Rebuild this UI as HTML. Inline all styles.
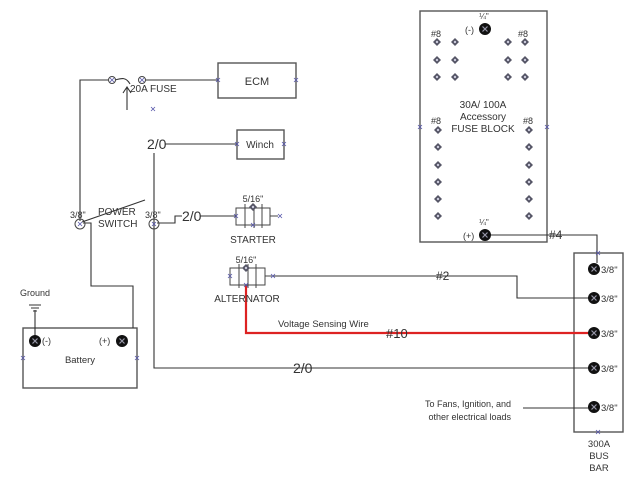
<!DOCTYPE html>
<html><head><meta charset="utf-8"><style>
html,body{margin:0;padding:0;background:#fff;}
svg{display:block;font-family:"Liberation Sans",sans-serif;}
</style></head><body>
<svg width="640" height="480" viewBox="0 0 640 480" xmlns="http://www.w3.org/2000/svg">
<defs>
<g id="bt"><circle r="6" fill="#111"/><path d="M-2.5,-2.5L2.5,2.5M2.5,-2.5L-2.5,2.5" stroke="#99a" stroke-width="1.2"/></g>
<g id="sd"><path d="M0,-4L4,0L0,4L-4,0Z" fill="#556"/><circle r="1.2" fill="#ccd"/></g>
<g id="xm"><path d="M-2,-2L2,2M2,-2L-2,2" stroke="#55a" stroke-width="0.8"/></g>
</defs>
<g fill="none" stroke="#555" stroke-width="1.4">
<rect x="420" y="11" width="127" height="231"/>
<rect x="574" y="253" width="49" height="179"/>
<rect x="218" y="63" width="78" height="35"/>
<rect x="237" y="130" width="47" height="29"/>
<rect x="23" y="328" width="114" height="60"/>
</g>
<g fill="none" stroke="#333" stroke-width="1.1">
<path d="M80,221V80H109"/>
<path d="M115,80C122,78 126,77 130,84 M145,80H218"/>
<path d="M127,110V88"/><path d="M123,93L127,87L131,93"/>
<path d="M82,222L145,200"/>
<path d="M83,223H91V286H133V328"/>
<path d="M165,144H237"/>
<path d="M154,153V368H594"/>
<path d="M157,223H175V216H182"/>
<path d="M200,216H236"/>
<path d="M273,276H517V298H594"/>
<path d="M491,235H597V263"/>
<path d="M523,408H590"/>
<path d="M35,310V341"/>
<path d="M29,305H41M31,308H39M33,311H37"/>
</g>
<path d="M246,285V333H594" fill="none" stroke="#d22" stroke-width="2.2"/>
<g fill="none" stroke="#444" stroke-width="1"><circle cx="112" cy="80" r="3.5"/><circle cx="142" cy="80" r="3.5"/>
<circle cx="80" cy="224" r="5"/><circle cx="154" cy="224" r="5"/></g>
<use href="#xm" x="112" y="80"/><use href="#xm" x="142" y="80"/><use href="#xm" x="80" y="224"/><use href="#xm" x="154" y="224"/>
<use href="#xm" x="153" y="109"/><use href="#xm" x="218" y="80"/><use href="#xm" x="296" y="80"/>
<use href="#xm" x="237" y="144"/><use href="#xm" x="284" y="144"/>
<use href="#xm" x="420" y="127"/><use href="#xm" x="547" y="127"/>
<use href="#xm" x="23" y="358"/><use href="#xm" x="137" y="358"/>
<use href="#xm" x="598" y="253"/><use href="#xm" x="598" y="432"/>
<g fill="none" stroke="#444" stroke-width="1">
<rect x="236" y="208" width="34" height="17"/><path d="M245,204V228M254,204V228M262,204V228M270,216H278"/>
<rect x="230" y="268" width="35" height="17"/><path d="M239,264V288M248,264V288M256,264V288M265,276H272"/>
</g>
<use href="#sd" x="253" y="207"/><use href="#sd" x="246" y="268"/>
<use href="#xm" x="280" y="216"/><use href="#xm" x="236" y="216"/><use href="#xm" x="253" y="225"/>
<use href="#xm" x="230" y="276"/><use href="#xm" x="273" y="276"/><use href="#xm" x="246" y="285"/>
<use href="#bt" x="485" y="29"/><use href="#bt" x="485" y="235"/>
<use href="#bt" x="35" y="341"/><use href="#bt" x="122" y="341"/>
<use href="#bt" x="594" y="269"/><use href="#bt" x="594" y="298"/><use href="#bt" x="594" y="333"/><use href="#bt" x="594" y="368"/><use href="#bt" x="594" y="407"/>
<g>
<use href="#sd" x="437" y="42"/><use href="#sd" x="455" y="42"/><use href="#sd" x="508" y="42"/><use href="#sd" x="525" y="42"/>
<use href="#sd" x="437" y="60"/><use href="#sd" x="455" y="60"/><use href="#sd" x="508" y="60"/><use href="#sd" x="525" y="60"/>
<use href="#sd" x="437" y="77"/><use href="#sd" x="455" y="77"/><use href="#sd" x="508" y="77"/><use href="#sd" x="525" y="77"/>
<use href="#sd" x="438" y="130"/><use href="#sd" x="438" y="147"/><use href="#sd" x="438" y="165"/><use href="#sd" x="438" y="182"/><use href="#sd" x="438" y="199"/><use href="#sd" x="438" y="216"/>
<use href="#sd" x="529" y="130"/><use href="#sd" x="529" y="147"/><use href="#sd" x="529" y="165"/><use href="#sd" x="529" y="182"/><use href="#sd" x="529" y="199"/><use href="#sd" x="529" y="216"/>
</g>
<g fill="#333" font-size="10">
<text x="257" y="85" text-anchor="middle" font-size="11">ECM</text>
<text x="260" y="148" text-anchor="middle" font-size="10">Winch</text>
<text x="130" y="92" font-size="10">20A FUSE</text>
<text x="98" y="215">POWER</text><text x="98" y="227">SWITCH</text>
<text x="70" y="218" font-size="9">3/8"</text><text x="145" y="218" font-size="9">3/8"</text>
<text x="147" y="149" font-size="14">2/0</text>
<text x="182" y="221" font-size="14">2/0</text>
<text x="293" y="373" font-size="14">2/0</text>
<text x="253" y="202" text-anchor="middle" font-size="9">5/16"</text>
<text x="253" y="243" text-anchor="middle">STARTER</text>
<text x="246" y="263" text-anchor="middle" font-size="9">5/16"</text>
<text x="247" y="302" text-anchor="middle">ALTERNATOR</text>
<text x="436" y="280" font-size="12">#2</text>
<text x="278" y="327" font-size="9.5">Voltage Sensing Wire</text>
<text x="386" y="338" font-size="13">#10</text>
<text x="549" y="239" font-size="12">#4</text>
<text x="20" y="296" font-size="9">Ground</text>
<text x="42" y="344" font-size="9">(-)</text><text x="99" y="344" font-size="9">(+)</text>
<text x="80" y="363" text-anchor="middle" font-size="9.5">Battery</text>
<g font-size="9.5"><text x="601" y="273">3/8"</text><text x="601" y="302">3/8"</text><text x="601" y="337">3/8"</text><text x="601" y="372">3/8"</text><text x="601" y="411">3/8"</text></g>
<text x="599" y="447" text-anchor="middle" font-size="9.5">300A</text>
<text x="599" y="459" text-anchor="middle" font-size="9.5">BUS</text>
<text x="599" y="471" text-anchor="middle" font-size="9.5">BAR</text>
<text x="511" y="407" text-anchor="end" font-size="9">To Fans, Ignition, and</text>
<text x="511" y="420" text-anchor="end" font-size="9">other electrical loads</text>
<text x="484" y="19" text-anchor="middle" font-size="8">¼"</text>
<text x="465" y="33" font-size="9">(-)</text>
<text x="484" y="225" text-anchor="middle" font-size="8">¼"</text>
<text x="463" y="239" font-size="9">(+)</text>
<text x="431" y="37" font-size="9">#8</text><text x="518" y="37" font-size="9">#8</text>
<text x="431" y="124" font-size="9">#8</text><text x="523" y="124" font-size="9">#8</text>
<text x="483" y="108" text-anchor="middle" font-size="10">30A/ 100A</text>
<text x="483" y="120" text-anchor="middle" font-size="10">Accessory</text>
<text x="483" y="132" text-anchor="middle" font-size="10">FUSE BLOCK</text>
</g>
</svg>
</body></html>
